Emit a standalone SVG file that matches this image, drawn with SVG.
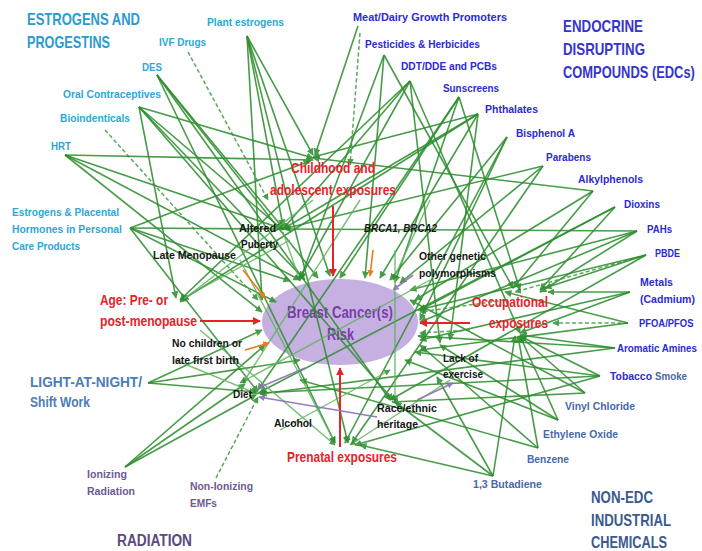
<svg xmlns="http://www.w3.org/2000/svg" width="702" height="551" viewBox="0 0 702 551">
<defs>
<style>
text{font-family:"Liberation Sans",Arial,sans-serif;font-weight:bold;font-size:11.5px}
.t1{fill:#2d9ad0;font-size:17px}
.e1{fill:#30a6d6}
.edc{fill:#2b2bd2}
.edcT{fill:#3535cc;font-size:17px}
.ne{fill:#4a68a8}
.neT{fill:#3c5a8e;font-size:17px}
.rad{fill:#6e5a94}
.radT{fill:#5b4a7c;font-size:16px}
.lan{fill:#4d7cb6;font-size:15px}
.red{fill:#e5232a;font-size:14px}
.blk{fill:#151515;font-size:11.5px}
.bc{fill:#7a3ea8;font-size:16px}
.g{stroke:#2f8f30;stroke-width:1.6;fill:none;opacity:0.88;marker-end:url(#ag)}
.gl{stroke:#5fb35f;stroke-width:1.4;fill:none;opacity:0.85;marker-end:url(#ag)}
.gd{stroke:#3f9a40;stroke-width:1.5;fill:none;stroke-dasharray:4 2.5;opacity:0.85;marker-end:url(#ag)}
.r{stroke:#e5232a;stroke-width:2;fill:none;marker-end:url(#ar)}
.o{stroke:#f07b1a;stroke-width:1.6;fill:none;marker-end:url(#ao)}
.p{stroke:#8a72b4;stroke-width:1.6;fill:none;opacity:0.9;marker-end:url(#ap)}
</style>
<marker id="ag" viewBox="0 0 10 10" refX="9" refY="5" markerWidth="4.5" markerHeight="4.5" orient="auto"><path d="M0,0 L10,5 L0,10 z" fill="#2f8f30"/></marker>
<marker id="ar" viewBox="0 0 10 10" refX="9" refY="5" markerWidth="4" markerHeight="4" orient="auto"><path d="M0,0 L10,5 L0,10 z" fill="#e5232a"/></marker>
<marker id="ao" viewBox="0 0 10 10" refX="9" refY="5" markerWidth="4" markerHeight="4" orient="auto"><path d="M0,0 L10,5 L0,10 z" fill="#f07b1a"/></marker>
<marker id="ap" viewBox="0 0 10 10" refX="9" refY="5" markerWidth="4" markerHeight="4" orient="auto"><path d="M0,0 L10,5 L0,10 z" fill="#8a72b4"/></marker>
</defs>
<rect width="702" height="551" fill="#ffffff"/>

<g id="breast-cancer-risk">
<ellipse cx="340" cy="322" rx="78" ry="43" fill="#c6b0e2"/>
<text class="bc" x="287" y="318" textLength="106" lengthAdjust="spacingAndGlyphs">Breast Cancer(s)</text>
<text class="bc" x="327" y="340" textLength="27" lengthAdjust="spacingAndGlyphs">Risk</text>
</g>

<g id="connectors">
<line class="g" x1="247" y1="36" x2="313" y2="155"/>
<line class="g" x1="247" y1="36" x2="283" y2="226"/>
<line class="g" x1="247" y1="36" x2="330" y2="276"/>
<line class="g" x1="247" y1="36" x2="262" y2="300"/>
<line class="g" x1="247" y1="36" x2="348" y2="443"/>
<line class="gd" x1="188" y1="52" x2="268" y2="200"/>
<line class="g" x1="157" y1="75" x2="283" y2="228"/>
<line class="g" x1="157" y1="75" x2="318" y2="278"/>
<line class="g" x1="157" y1="75" x2="335" y2="443"/>
<line class="g" x1="157" y1="75" x2="390" y2="400"/>
<line class="g" x1="139" y1="107" x2="313" y2="158"/>
<line class="g" x1="139" y1="107" x2="283" y2="230"/>
<line class="g" x1="139" y1="107" x2="176" y2="298"/>
<line class="g" x1="139" y1="107" x2="305" y2="280"/>
<line class="g" x1="139" y1="107" x2="393" y2="400"/>
<line class="gd" x1="105" y1="130" x2="258" y2="300"/>
<line class="g" x1="65" y1="155" x2="313" y2="160"/>
<line class="g" x1="65" y1="155" x2="283" y2="229"/>
<line class="g" x1="65" y1="155" x2="300" y2="280"/>
<line class="g" x1="65" y1="155" x2="262" y2="312"/>
<line class="g" x1="130" y1="228" x2="280" y2="229"/>
<line class="g" x1="130" y1="228" x2="310" y2="161"/>
<line class="g" x1="130" y1="228" x2="290" y2="281"/>
<line class="g" x1="130" y1="228" x2="276" y2="302"/>
<line class="g" x1="130" y1="228" x2="258" y2="392"/>
<line class="g" x1="358" y1="26" x2="315" y2="155"/>
<line class="gd" x1="360" y1="33" x2="350" y2="165"/>
<line class="g" x1="384" y1="55" x2="365" y2="278"/>
<line class="g" x1="384" y1="55" x2="513" y2="288"/>
<line class="g" x1="384" y1="55" x2="300" y2="280"/>
<line class="g" x1="410" y1="81" x2="283" y2="229"/>
<line class="g" x1="410" y1="81" x2="300" y2="278"/>
<line class="g" x1="410" y1="81" x2="520" y2="333"/>
<line class="g" x1="410" y1="81" x2="440" y2="343"/>
<line class="g" x1="410" y1="81" x2="180" y2="300"/>
<line class="g" x1="459" y1="97" x2="395" y2="282"/>
<line class="g" x1="459" y1="97" x2="520" y2="290"/>
<line class="g" x1="459" y1="97" x2="340" y2="278"/>
<line class="g" x1="459" y1="97" x2="258" y2="390"/>
<line class="g" x1="478" y1="114" x2="313" y2="157"/>
<line class="g" x1="478" y1="114" x2="283" y2="229"/>
<line class="g" x1="478" y1="114" x2="380" y2="278"/>
<line class="g" x1="478" y1="114" x2="450" y2="340"/>
<line class="g" x1="478" y1="114" x2="182" y2="300"/>
<line class="g" x1="507" y1="137" x2="390" y2="280"/>
<line class="g" x1="507" y1="137" x2="420" y2="320"/>
<line class="g" x1="507" y1="137" x2="345" y2="443"/>
<line class="g" x1="543" y1="166" x2="400" y2="283"/>
<line class="g" x1="543" y1="166" x2="283" y2="229"/>
<line class="g" x1="543" y1="166" x2="352" y2="443"/>
<line class="g" x1="593" y1="191" x2="415" y2="300"/>
<line class="g" x1="593" y1="191" x2="513" y2="288"/>
<line class="g" x1="593" y1="191" x2="313" y2="158"/>
<line class="g" x1="615" y1="207" x2="540" y2="290"/>
<line class="g" x1="615" y1="207" x2="420" y2="310"/>
<line class="g" x1="615" y1="207" x2="260" y2="392"/>
<line class="g" x1="637" y1="231" x2="410" y2="290"/>
<line class="g" x1="637" y1="231" x2="540" y2="292"/>
<line class="g" x1="637" y1="231" x2="420" y2="322"/>
<line class="g" x1="637" y1="231" x2="285" y2="229"/>
<line class="gd" x1="646" y1="255" x2="515" y2="292"/>
<line class="g" x1="646" y1="255" x2="545" y2="288"/>
<line class="g" x1="646" y1="255" x2="418" y2="310"/>
<line class="g" x1="646" y1="255" x2="390" y2="400"/>
<line class="g" x1="630" y1="292" x2="548" y2="292"/>
<line class="g" x1="630" y1="292" x2="520" y2="333"/>
<line class="g" x1="630" y1="292" x2="420" y2="340"/>
<line class="gd" x1="628" y1="323" x2="553" y2="323"/>
<line class="g" x1="628" y1="323" x2="420" y2="350"/>
<line class="g" x1="628" y1="323" x2="505" y2="292"/>
<line class="g" x1="615" y1="348" x2="520" y2="335"/>
<line class="g" x1="615" y1="348" x2="418" y2="336"/>
<line class="g" x1="615" y1="348" x2="260" y2="394"/>
<line class="g" x1="600" y1="376" x2="520" y2="336"/>
<line class="g" x1="600" y1="376" x2="415" y2="352"/>
<line class="g" x1="600" y1="376" x2="355" y2="445"/>
<line class="g" x1="600" y1="376" x2="258" y2="393"/>
<line class="g" x1="585" y1="393" x2="520" y2="336"/>
<line class="g" x1="585" y1="393" x2="392" y2="402"/>
<line class="g" x1="585" y1="393" x2="410" y2="300"/>
<line class="g" x1="558" y1="420" x2="520" y2="336"/>
<line class="g" x1="558" y1="420" x2="440" y2="345"/>
<line class="g" x1="558" y1="420" x2="405" y2="360"/>
<line class="g" x1="538" y1="448" x2="518" y2="336"/>
<line class="g" x1="538" y1="448" x2="420" y2="345"/>
<line class="g" x1="538" y1="448" x2="300" y2="380"/>
<line class="g" x1="493" y1="476" x2="515" y2="336"/>
<line class="g" x1="493" y1="476" x2="437" y2="377"/>
<line class="g" x1="493" y1="476" x2="395" y2="402"/>
<line class="g" x1="493" y1="476" x2="360" y2="445"/>
<line class="gd" x1="470" y1="330" x2="420" y2="333"/>
<line class="gd" x1="505" y1="300" x2="420" y2="312"/>
<line class="g" x1="148" y1="383" x2="262" y2="330"/>
<line class="g" x1="148" y1="383" x2="256" y2="392"/>
<line class="g" x1="148" y1="383" x2="300" y2="360"/>
<line class="g" x1="125" y1="467" x2="256" y2="395"/>
<line class="g" x1="125" y1="467" x2="265" y2="345"/>
<line class="g" x1="125" y1="467" x2="245" y2="384"/>
<line class="gd" x1="216" y1="478" x2="258" y2="397"/>
<line class="gl" x1="283" y1="232" x2="300" y2="281"/>
<line class="gl" x1="290" y1="240" x2="180" y2="300"/>
<line class="gl" x1="313" y1="200" x2="180" y2="302"/>
<line class="gl" x1="360" y1="200" x2="243" y2="383"/>
<line class="gl" x1="240" y1="260" x2="335" y2="443"/>
<line class="gl" x1="200" y1="330" x2="335" y2="445"/>
<line class="gl" x1="175" y1="360" x2="258" y2="394"/>
<line class="gl" x1="430" y1="280" x2="240" y2="383"/>
<line class="gl" x1="450" y1="380" x2="350" y2="445"/>
<line class="gl" x1="280" y1="430" x2="390" y2="370"/>
<line class="gl" x1="395" y1="250" x2="395" y2="402"/>
<line class="gl" x1="430" y1="200" x2="393" y2="280"/>
<line class="r" x1="333" y1="206" x2="333" y2="276"/>
<line class="r" x1="200" y1="321" x2="260" y2="321"/>
<line class="r" x1="470" y1="323" x2="420" y2="323"/>
<line class="r" x1="340" y1="447" x2="340" y2="368"/>
<line class="o" x1="243" y1="270" x2="265" y2="298"/>
<line class="o" x1="245" y1="350" x2="269" y2="343"/>
<line class="o" x1="373" y1="250" x2="370" y2="276"/>
<line class="p" x1="413" y1="275" x2="393" y2="290"/>
<line class="p" x1="377" y1="417" x2="259" y2="397"/>
<line class="p" x1="305" y1="368" x2="258" y2="388"/>
<line class="p" x1="417" y1="400" x2="453" y2="383"/>
</g>

<g id="estrogens-title"><text class="t1" x="27" y="25" textLength="113" lengthAdjust="spacingAndGlyphs">ESTROGENS AND</text><text class="t1" x="27" y="48" textLength="83" lengthAdjust="spacingAndGlyphs">PROGESTINS</text></g>
<g id="plant-estrogens"><text class="e1" x="207" y="26" textLength="77" lengthAdjust="spacingAndGlyphs">Plant estrogens</text></g>
<g id="ivf-drugs"><text class="e1" x="159" y="46" textLength="47" lengthAdjust="spacingAndGlyphs">IVF Drugs</text></g>
<g id="des"><text class="e1" x="142" y="71" textLength="20" lengthAdjust="spacingAndGlyphs">DES</text></g>
<g id="oral-contraceptives"><text class="e1" x="63" y="98" textLength="98" lengthAdjust="spacingAndGlyphs">Oral Contraceptives</text></g>
<g id="bioindenticals"><text class="e1" x="60" y="122" textLength="70" lengthAdjust="spacingAndGlyphs">Bioindenticals</text></g>
<g id="hrt"><text class="e1" x="51" y="150" textLength="20" lengthAdjust="spacingAndGlyphs">HRT</text></g>
<g id="estrogens-placental"><text class="e1" x="12" y="216" textLength="107" lengthAdjust="spacingAndGlyphs">Estrogens &amp; Placental</text><text class="e1" x="12" y="233" textLength="110" lengthAdjust="spacingAndGlyphs">Hormones in Personal</text><text class="e1" x="12" y="250" textLength="68" lengthAdjust="spacingAndGlyphs">Care Products</text></g>

<g id="edc-title"><text class="edcT" x="563" y="32" textLength="80" lengthAdjust="spacingAndGlyphs">ENDOCRINE</text><text class="edcT" x="563" y="55" textLength="82" lengthAdjust="spacingAndGlyphs">DISRUPTING</text><text class="edcT" transform="translate(563,78) scale(0.76,1)">COMPOUNDS (EDCs)</text></g>
<g id="meat-dairy"><text class="edc" x="353" y="21" textLength="154" lengthAdjust="spacingAndGlyphs">Meat/Dairy Growth Promoters</text></g>
<g id="pesticides"><text class="edc" x="365" y="48" textLength="115" lengthAdjust="spacingAndGlyphs">Pesticides &amp; Herbicides</text></g>
<g id="ddt"><text class="edc" x="401" y="70" textLength="96" lengthAdjust="spacingAndGlyphs">DDT/DDE and PCBs</text></g>
<g id="sunscreens"><text class="edc" x="443" y="92" textLength="56" lengthAdjust="spacingAndGlyphs">Sunscreens</text></g>
<g id="phthalates"><text class="edc" x="485" y="113" textLength="53" lengthAdjust="spacingAndGlyphs">Phthalates</text></g>
<g id="bisphenol"><text class="edc" x="516" y="137" textLength="59" lengthAdjust="spacingAndGlyphs">Bisphenol A</text></g>
<g id="parabens"><text class="edc" x="546" y="161" textLength="45" lengthAdjust="spacingAndGlyphs">Parabens</text></g>
<g id="alkylphenols"><text class="edc" x="578" y="183" textLength="65" lengthAdjust="spacingAndGlyphs">Alkylphenols</text></g>
<g id="dioxins"><text class="edc" x="624" y="208" textLength="36" lengthAdjust="spacingAndGlyphs">Dioxins</text></g>
<g id="pahs"><text class="edc" x="647" y="233" textLength="25" lengthAdjust="spacingAndGlyphs">PAHs</text></g>
<g id="pbde"><text class="edc" x="655" y="257" textLength="25" lengthAdjust="spacingAndGlyphs">PBDE</text></g>
<g id="metals"><text class="edc" x="640" y="286" textLength="33" lengthAdjust="spacingAndGlyphs">Metals</text><text class="edc" x="640" y="303" textLength="55" lengthAdjust="spacingAndGlyphs">(Cadmium)</text></g>
<g id="pfoa"><text class="edc" transform="translate(639,327) scale(0.82,1)">PFOA/PFOS</text></g>
<g id="aromatic-amines"><text class="edc" transform="translate(617,352) scale(0.85,1)">Aromatic Amines</text></g>
<g id="tobacco"><text class="edc" x="610" y="380" textLength="42" lengthAdjust="spacingAndGlyphs">Tobacco</text><text class="ne" x="655" y="380" textLength="32" lengthAdjust="spacingAndGlyphs">Smoke</text></g>

<g id="vinyl-chloride"><text class="ne" x="565" y="410" textLength="70" lengthAdjust="spacingAndGlyphs">Vinyl Chloride</text></g>
<g id="ethylene-oxide"><text class="ne" x="543" y="438" textLength="75" lengthAdjust="spacingAndGlyphs">Ethylene Oxide</text></g>
<g id="benzene"><text class="ne" x="527" y="463" textLength="42" lengthAdjust="spacingAndGlyphs">Benzene</text></g>
<g id="butadiene"><text class="ne" x="473" y="488" textLength="69" lengthAdjust="spacingAndGlyphs">1,3 Butadiene</text></g>
<g id="non-edc-title"><text class="neT" x="591" y="503" textLength="62" lengthAdjust="spacingAndGlyphs">NON-EDC</text><text class="neT" x="591" y="526" textLength="80" lengthAdjust="spacingAndGlyphs">INDUSTRIAL</text><text class="neT" x="591" y="548" textLength="76" lengthAdjust="spacingAndGlyphs">CHEMICALS</text></g>

<g id="light-at-night"><text class="lan" x="30" y="387" textLength="112" lengthAdjust="spacingAndGlyphs">LIGHT-AT-NIGHT/</text><text class="lan" x="30" y="407" textLength="60" lengthAdjust="spacingAndGlyphs" style="font-size:14px">Shift Work</text></g>
<g id="ionizing"><text class="rad" x="87" y="478" textLength="40" lengthAdjust="spacingAndGlyphs">Ionizing</text><text class="rad" x="87" y="495" textLength="48" lengthAdjust="spacingAndGlyphs">Radiation</text></g>
<g id="non-ionizing"><text class="rad" x="190" y="490" textLength="63" lengthAdjust="spacingAndGlyphs">Non-Ionizing</text><text class="rad" x="190" y="507" textLength="27" lengthAdjust="spacingAndGlyphs">EMFs</text></g>
<g id="radiation-title"><text class="radT" x="117" y="546" textLength="75" lengthAdjust="spacingAndGlyphs">RADIATION</text></g>

<g id="childhood"><text class="red" x="291" y="173" textLength="84" lengthAdjust="spacingAndGlyphs">Childhood and</text><text class="red" x="270" y="195" textLength="126" lengthAdjust="spacingAndGlyphs">adolescent exposures</text></g>
<g id="age"><text class="red" x="100" y="305" textLength="68" lengthAdjust="spacingAndGlyphs">Age: Pre- or</text><text class="red" x="100" y="326" textLength="97" lengthAdjust="spacingAndGlyphs">post-menopause</text></g>
<g id="occupational"><text class="red" x="472" y="307" textLength="76" lengthAdjust="spacingAndGlyphs">Occupational</text><text class="red" x="489" y="328" textLength="59" lengthAdjust="spacingAndGlyphs">exposures</text></g>
<g id="prenatal"><text class="red" x="287" y="462" textLength="110" lengthAdjust="spacingAndGlyphs">Prenatal exposures</text></g>

<g id="altered-puberty"><text class="blk" x="239" y="232" textLength="37" lengthAdjust="spacingAndGlyphs">Altered</text><text class="blk" x="241" y="248" textLength="37" lengthAdjust="spacingAndGlyphs">Puberty</text></g>
<g id="late-menopause"><text class="blk" x="153" y="259" textLength="83" lengthAdjust="spacingAndGlyphs">Late Menopause</text></g>
<g id="brca"><text class="blk" x="364" y="232" textLength="73" lengthAdjust="spacingAndGlyphs" style="font-style:italic">BRCA1, BRCA2</text></g>
<g id="other-genetic"><text class="blk" x="419" y="260" textLength="67" lengthAdjust="spacingAndGlyphs">Other genetic</text><text class="blk" x="419" y="277" textLength="77" lengthAdjust="spacingAndGlyphs">polymorphisms</text></g>
<g id="no-children"><text class="blk" x="172" y="347" textLength="70" lengthAdjust="spacingAndGlyphs">No children or</text><text class="blk" x="172" y="364" textLength="67" lengthAdjust="spacingAndGlyphs">late first birth</text></g>
<g id="diet"><text class="blk" x="233" y="398" textLength="19" lengthAdjust="spacingAndGlyphs">Diet</text></g>
<g id="alcohol"><text class="blk" x="274" y="427" textLength="38" lengthAdjust="spacingAndGlyphs">Alcohol</text></g>
<g id="race"><text class="blk" x="377" y="412" textLength="60" lengthAdjust="spacingAndGlyphs">Race/ethnic</text><text class="blk" x="377" y="428" textLength="41" lengthAdjust="spacingAndGlyphs">heritage</text></g>
<g id="lack-exercise"><text class="blk" x="443" y="362" textLength="35" lengthAdjust="spacingAndGlyphs">Lack of</text><text class="blk" x="443" y="378" textLength="40" lengthAdjust="spacingAndGlyphs">exercise</text></g>
</svg>
